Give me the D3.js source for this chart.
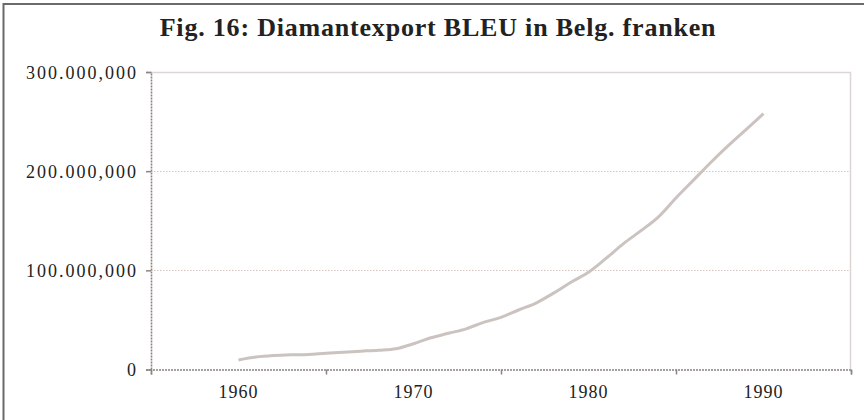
<!DOCTYPE html>
<html>
<head>
<meta charset="utf-8">
<script src="https://cdn.jsdelivr.net/npm/d3@7"></script>
<style>
  html, body { margin: 0; padding: 0; background: #fff; }
  svg { display: block; }
  text { font-family: "Liberation Serif", "DejaVu Serif", serif; fill: #222; }
</style>
</head>
<body>
<svg id="chart" width="864" height="420"></svg>
<script>
const title = "Fig. 16: Diamantexport BLEU in Belg. franken";
const years = [1960,1961,1962,1963,1964,1965,1966,1967,1968,1969,1970,1971,1972,1973,1974,1975,1976,1977,1978,1979,1980,1981,1982,1983,1984,1985,1986,1987,1988,1989,1990];
const exportValues = [9.6e6,12.5e6,14e6,14.8e6,15.2e6,16.5e6,17.5e6,18.5e6,19.5e6,21e6,26e6,32e6,36.5e6,41e6,47.5e6,52.5e6,60e6,67e6,77e6,88e6,98e6,112e6,127e6,140e6,154e6,173e6,191e6,209e6,226e6,242e6,258e6];
const yTicks = [0, 100e6, 200e6, 300e6];
const yTickLabels = ["0", "100.000,000", "200.000,000", "300.000,000"];
const xTickMarks = [1955, 1965, 1975, 1985, 1995];
const xLabels = [1960, 1970, 1980, 1990];

const svg = d3.select("#chart");
const m = {left: 151, right: 851, top: 72, bottom: 369.5};

const x = d3.scaleLinear().domain([1955, 1995]).range([m.left, m.right]);
const y = d3.scaleLinear().domain([0, 300e6]).range([m.bottom, m.top]);

// outer frame (top + left)
svg.append("path").attr("d", `M3.5,420 V4 H864`).attr("fill", "none")
  .attr("stroke", "#6a6a6a").attr("stroke-width", 2);

// title
svg.append("text").attr("x", 438).attr("y", 36).attr("text-anchor", "middle")
  .attr("font-weight", "bold").attr("font-size", 26).attr("letter-spacing", "0.8px").text(title);

// gridlines (dotted)
svg.append("g").selectAll("line").data(yTicks.filter(d => d > 0 && d < 300e6)).join("line")
  .attr("x1", m.left).attr("x2", m.right)
  .attr("y1", d => Math.round(y(d)) + 0.5).attr("y2", d => Math.round(y(d)) + 0.5)
  .attr("stroke", "#d9c4c4").attr("stroke-width", 1).attr("stroke-dasharray", "1.5,1.5");

// plot area top and right border
svg.append("path").attr("d", `M${m.left},${m.top + 0.5} H${m.right - 0.5} V${m.bottom}`)
  .attr("fill", "none").attr("stroke", "#ddd6d4").attr("stroke-width", 1.5);

// y axis
const yAxis = d3.axisLeft(y).tickValues(yTicks).tickSize(5).tickPadding(8)
  .tickFormat((d, i) => yTickLabels[i]);
const gy = svg.append("g").attr("transform", `translate(${m.left},0)`).call(yAxis);
gy.select(".domain").attr("stroke", "#8a8480").attr("stroke-width", 1.6).attr("stroke-dasharray", "2,1");
gy.selectAll(".tick line").attr("stroke", "#8a8480").attr("stroke-width", 1.5);
gy.selectAll(".tick text").attr("font-size", 18).attr("letter-spacing", "2px")
  .attr("font-family", "Liberation Serif").attr("fill", "#222").attr("dy", "0.34em");

// x axis: tick marks
const xAxis = d3.axisBottom(x).tickValues(xTickMarks).tickSize(5).tickFormat("");
const gx = svg.append("g").attr("transform", `translate(0,${m.bottom})`).call(xAxis);
gx.select(".domain").attr("stroke", "#8a8480").attr("stroke-width", 1.6).attr("stroke-dasharray", "2,1");
gx.selectAll(".tick line").attr("stroke", "#8a8480").attr("stroke-width", 1.5);

// x labels
svg.append("g").selectAll("text").data(xLabels).join("text")
  .attr("x", d => x(d)).attr("y", 398).attr("text-anchor", "middle")
  .attr("font-size", 18).attr("letter-spacing", "1px").text(d => d);

// line
const line = d3.line().x((d, i) => x(years[i])).y(d => y(d)).curve(d3.curveMonotoneX);
svg.append("path").datum(exportValues).attr("d", line)
  .attr("fill", "none").attr("stroke", "#cbc3bf").attr("stroke-width", 3)
  .attr("stroke-linejoin", "round");
</script>
</body>
</html>
